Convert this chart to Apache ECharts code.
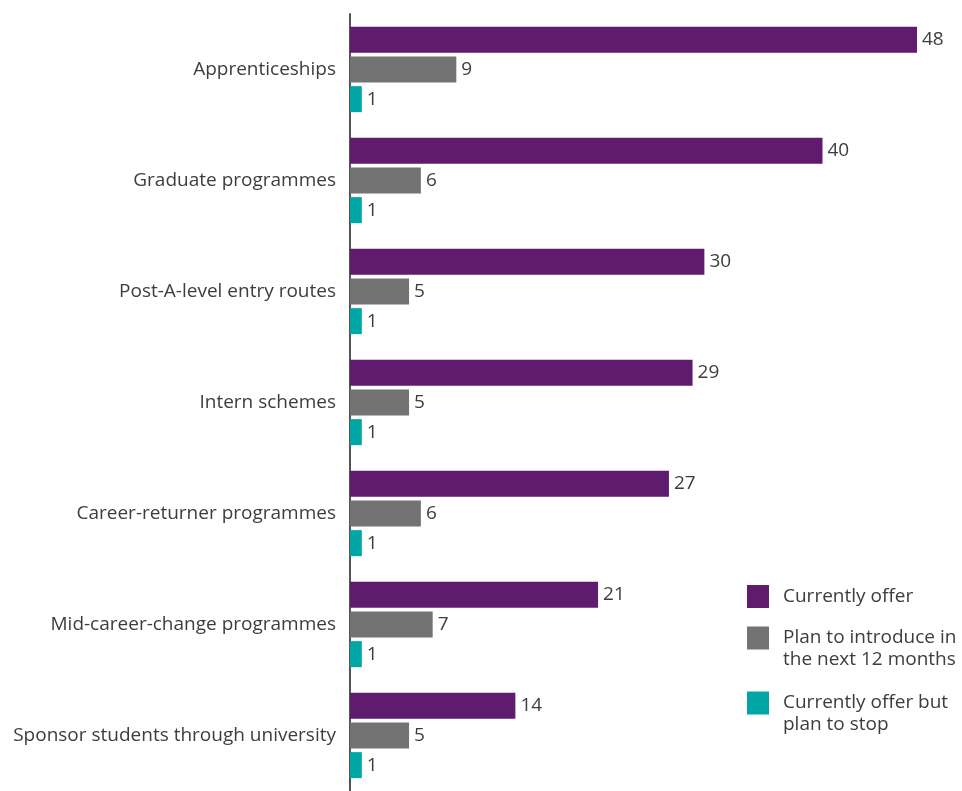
<!DOCTYPE html>
<html>
<head>
<meta charset="utf-8">
<script src="https://cdn.jsdelivr.net/npm/echarts@6/dist/echarts.min.js"></script>
<style>
  html, body { margin: 0; padding: 0; background: #fff; }
  #chart { width: 962px; height: 791px; }
</style>
</head>
<body>
<div id="chart"></div>
<script>
// Early-career and re-entry schemes offered by employers
const categories = [
  'Apprenticeships',
  'Graduate programmes',
  'Post-A-level entry routes',
  'Intern schemes',
  'Career-returner programmes',
  'Mid-career-change programmes',
  'Sponsor students through university'
];
const currentlyOffer = [48, 40, 30, 29, 27, 21, 14];
const planToIntroduce = [9, 6, 5, 5, 6, 7, 5];
const offerButStop = [1, 1, 1, 1, 1, 1, 1];

const seriesNames = [
  'Currently offer',
  'Plan to introduce in\nthe next 12 months',
  'Currently offer but\nplan to stop'
];
const colors = ['#5f1b6e', '#737373', '#00a6a6'];

const FONT = 'Open Sans';
const textColor = '#3d3d3d';
const FS = 19;

const chart = echarts.init(document.getElementById('chart'), null, { renderer: 'canvas' });

function barSeries(name, data, color) {
  return {
    name: name,
    type: 'bar',
    data: data,
    barWidth: 26,
    barGap: '14%',
    itemStyle: { color: color },
    label: {
      show: true,
      position: 'right',
      distance: 5,
      color: textColor,
      fontFamily: FONT,
      fontSize: FS
    },
    silent: true
  };
}

// One legend block per series so each swatch lines up with the first line of its text
function legendAt(idx, top, twoLines) {
  return {
    data: [seriesNames[idx]],
    left: 747,
    top: top,
    padding: 0,
    itemWidth: 22,
    itemHeight: 23,
    itemGap: 0,
    icon: 'rect',
    selectedMode: false,
    formatter: twoLines ? (n) => '\n' + n : (n) => n,
    textStyle: {
      fontFamily: FONT,
      fontSize: FS,
      color: textColor,
      lineHeight: 22,
      padding: [0, 0, 0, 9]
    }
  };
}

chart.setOption({
  animation: false,
  backgroundColor: '#ffffff',
  grid: { left: 350, width: 567, top: 14, height: 777, containLabel: false },
  xAxis: {
    type: 'value',
    min: 0,
    max: 48,
    show: false
  },
  yAxis: {
    type: 'category',
    data: categories,
    inverse: true,
    axisLine: { show: true, lineStyle: { color: '#555555', width: 2 } },
    axisTick: { show: false },
    axisLabel: {
      margin: 14,
      color: textColor,
      fontFamily: FONT,
      fontSize: FS
    }
  },
  legend: [
    legendAt(0, 585, false),
    legendAt(1, 605, true),
    legendAt(2, 670, true)
  ],
  series: [
    barSeries(seriesNames[0], currentlyOffer, colors[0]),
    barSeries(seriesNames[1], planToIntroduce, colors[1]),
    barSeries(seriesNames[2], offerButStop, colors[2])
  ]
});
</script>
</body>
</html>
